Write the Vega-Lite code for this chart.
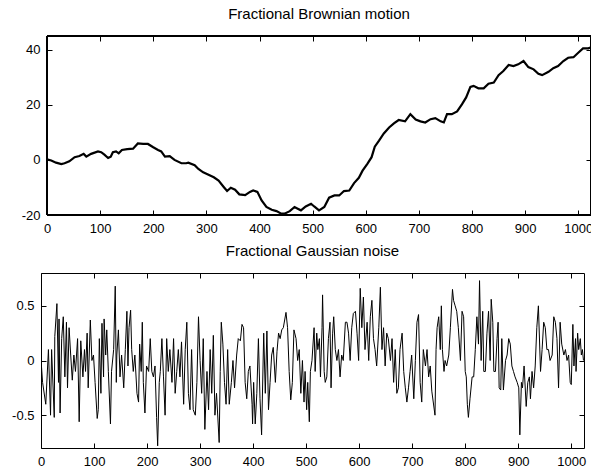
{
  "$schema": "https://vega.github.io/schema/vega-lite/v6.json",
  "padding": {"top": 6, "left": 0, "right": 0, "bottom": 0},
  "background": "white",
  "spacing": 8,
  "datasets": {
    "fbm": [
      {"t":0,"v":0.2},{"t":8,"v":-0.2},{"t":17,"v":-1},{"t":27,"v":-1.5},{"t":33,"v":-1.2},{"t":42,"v":-0.5},{"t":52,"v":1},{"t":61,"v":1.4},{"t":69,"v":2.2},{"t":74,"v":1.2},{"t":83,"v":2.2},{"t":96,"v":3.1},{"t":102,"v":2.8},{"t":108,"v":1.9},{"t":115,"v":0.7},{"t":120,"v":1.2},{"t":124,"v":2.8},{"t":130,"v":3.1},{"t":135,"v":2.4},{"t":141,"v":3.6},{"t":151,"v":3.9},{"t":162,"v":4.1},{"t":171,"v":6},{"t":181,"v":5.8},{"t":190,"v":5.8},{"t":200,"v":4.6},{"t":209,"v":3.6},{"t":215,"v":3.1},{"t":222,"v":1.2},{"t":231,"v":1.4},{"t":240,"v":0},{"t":253,"v":-1.2},{"t":262,"v":-1.2},{"t":266,"v":-1},{"t":278,"v":-1.9},{"t":285,"v":-3.3},{"t":294,"v":-4.5},{"t":301,"v":-5.1},{"t":314,"v":-6.3},{"t":323,"v":-7.5},{"t":333,"v":-9.9},{"t":339,"v":-11.3},{"t":346,"v":-10.1},{"t":354,"v":-10.8},{"t":362,"v":-12.5},{"t":373,"v":-12.8},{"t":382,"v":-11.6},{"t":388,"v":-11.1},{"t":396,"v":-11.6},{"t":404,"v":-14.7},{"t":413,"v":-17.1},{"t":423,"v":-18.1},{"t":432,"v":-18.6},{"t":441,"v":-19.5},{"t":447,"v":-19.5},{"t":457,"v":-18.6},{"t":466,"v":-17.1},{"t":472,"v":-17.7},{"t":478,"v":-18.3},{"t":487,"v":-16.9},{"t":497,"v":-15.9},{"t":503,"v":-16.9},{"t":512,"v":-18.3},{"t":522,"v":-17.1},{"t":531,"v":-13.7},{"t":541,"v":-12.9},{"t":550,"v":-12.9},{"t":559,"v":-11.3},{"t":569,"v":-11.1},{"t":578,"v":-8.4},{"t":587,"v":-6.5},{"t":594,"v":-3.9},{"t":603,"v":-1.4},{"t":611,"v":1},{"t":617,"v":4.8},{"t":625,"v":7},{"t":634,"v":9.6},{"t":644,"v":11.8},{"t":653,"v":13.3},{"t":662,"v":14.5},{"t":674,"v":14},{"t":684,"v":16.6},{"t":694,"v":14.7},{"t":703,"v":14},{"t":712,"v":13.6},{"t":722,"v":14.8},{"t":731,"v":15.2},{"t":741,"v":14},{"t":747,"v":13.6},{"t":753,"v":16.6},{"t":762,"v":16.6},{"t":772,"v":17.6},{"t":781,"v":20.2},{"t":789,"v":22.7},{"t":797,"v":26.5},{"t":803,"v":26.9},{"t":812,"v":26},{"t":822,"v":26},{"t":831,"v":27.7},{"t":841,"v":28.1},{"t":850,"v":30.8},{"t":859,"v":32.3},{"t":869,"v":34.5},{"t":878,"v":34.1},{"t":887,"v":34.7},{"t":897,"v":35.9},{"t":906,"v":33.7},{"t":916,"v":32.9},{"t":925,"v":31.3},{"t":932,"v":30.8},{"t":944,"v":32},{"t":953,"v":33.3},{"t":962,"v":34.1},{"t":972,"v":35.9},{"t":981,"v":37.1},{"t":991,"v":37.3},{"t":1000,"v":38.9},{"t":1009,"v":40.5},{"t":1019,"v":40.5},{"t":1023,"v":40.8}
    ],
    "fgn": [
      {"t":0,"v":0.01},{"t":3,"v":-0.2},{"t":9,"v":-0.4},{"t":14,"v":0.1},{"t":18,"v":-0.5},{"t":20,"v":0.1},{"t":25,"v":-0.52},{"t":26,"v":0.22},{"t":30,"v":0.52},{"t":33,"v":-0.2},{"t":34,"v":0.38},{"t":36,"v":-0.48},{"t":39,"v":0.2},{"t":42,"v":0.4},{"t":45,"v":-0.15},{"t":48,"v":0.35},{"t":50,"v":-0.25},{"t":53,"v":0.3},{"t":56,"v":0.05},{"t":59,"v":-0.18},{"t":62,"v":0.05},{"t":65,"v":-0.1},{"t":69,"v":0.2},{"t":72,"v":-0.56},{"t":75,"v":0.18},{"t":79,"v":-0.15},{"t":82,"v":0.1},{"t":84,"v":-0.1},{"t":87,"v":0.25},{"t":89,"v":-0.25},{"t":93,"v":0.37},{"t":96,"v":0.0},{"t":99,"v":0.05},{"t":102,"v":-0.2},{"t":106,"v":-0.53},{"t":108,"v":-0.45},{"t":110,"v":0.2},{"t":113,"v":-0.3},{"t":115,"v":0.34},{"t":118,"v":-0.15},{"t":119,"v":0.38},{"t":122,"v":0.05},{"t":124,"v":0.28},{"t":127,"v":-0.1},{"t":131,"v":-0.58},{"t":133,"v":-0.1},{"t":137,"v":0.1},{"t":140,"v":0.68},{"t":142,"v":-0.2},{"t":143,"v":0.05},{"t":146,"v":0.28},{"t":149,"v":-0.15},{"t":152,"v":0.05},{"t":156,"v":-0.25},{"t":159,"v":0.1},{"t":162,"v":0.45},{"t":164,"v":-0.05},{"t":166,"v":0.3},{"t":169,"v":0.46},{"t":171,"v":0.1},{"t":174,"v":-0.1},{"t":177,"v":0.05},{"t":181,"v":-0.3},{"t":184,"v":-0.38},{"t":186,"v":0.15},{"t":189,"v":-0.1},{"t":191,"v":0.35},{"t":193,"v":-0.2},{"t":196,"v":-0.48},{"t":199,"v":-0.05},{"t":203,"v":-0.1},{"t":206,"v":0.2},{"t":209,"v":-0.1},{"t":212,"v":-0.15},{"t":215,"v":-0.05},{"t":218,"v":-0.52},{"t":220,"v":-0.78},{"t":223,"v":-0.2},{"t":225,"v":-0.1},{"t":228,"v":0.2},{"t":231,"v":-0.15},{"t":234,"v":-0.5},{"t":237,"v":0.2},{"t":240,"v":-0.1},{"t":243,"v":0.1},{"t":247,"v":-0.2},{"t":250,"v":0.2},{"t":253,"v":-0.3},{"t":256,"v":-0.1},{"t":259,"v":0.1},{"t":262,"v":-0.15},{"t":265,"v":0.17},{"t":269,"v":-0.4},{"t":272,"v":0.1},{"t":275,"v":0.35},{"t":278,"v":-0.3},{"t":281,"v":-0.45},{"t":284,"v":0.1},{"t":287,"v":-0.45},{"t":291,"v":-0.5},{"t":294,"v":-0.2},{"t":297,"v":0.4},{"t":300,"v":0.0},{"t":303,"v":-0.3},{"t":306,"v":0.2},{"t":309,"v":-0.63},{"t":313,"v":-0.1},{"t":316,"v":-0.45},{"t":319,"v":0.1},{"t":322,"v":-0.3},{"t":325,"v":0.23},{"t":328,"v":-0.5},{"t":331,"v":-0.3},{"t":336,"v":-0.75},{"t":338,"v":-0.1},{"t":340,"v":0.35},{"t":343,"v":0.15},{"t":346,"v":-0.2},{"t":349,"v":-0.4},{"t":352,"v":0.1},{"t":355,"v":-0.4},{"t":359,"v":-0.2},{"t":362,"v":0.0},{"t":365,"v":-0.25},{"t":369,"v":0.05},{"t":372,"v":0.2},{"t":376,"v":0.18},{"t":379,"v":0.33},{"t":382,"v":0.3},{"t":385,"v":-0.2},{"t":388,"v":-0.35},{"t":391,"v":-0.1},{"t":394,"v":-0.05},{"t":398,"v":-0.4},{"t":399,"v":-0.58},{"t":401,"v":-0.2},{"t":404,"v":-0.58},{"t":407,"v":-0.3},{"t":410,"v":0.2},{"t":413,"v":-0.35},{"t":416,"v":-0.68},{"t":420,"v":0.25},{"t":423,"v":-0.3},{"t":426,"v":0.27},{"t":429,"v":-0.45},{"t":432,"v":-0.2},{"t":435,"v":0.05},{"t":438,"v":0.12},{"t":442,"v":-0.2},{"t":445,"v":0.08},{"t":448,"v":0.25},{"t":451,"v":0.2},{"t":454,"v":0.28},{"t":457,"v":0.3},{"t":462,"v":0.44},{"t":465,"v":0.3},{"t":468,"v":-0.1},{"t":471,"v":-0.36},{"t":474,"v":-0.2},{"t":477,"v":0.28},{"t":481,"v":0.2},{"t":484,"v":0.0},{"t":487,"v":0.1},{"t":490,"v":-0.3},
      {"t":493,"v":0.0},{"t":496,"v":-0.38},{"t":498,"v":-0.1},{"t":501,"v":-0.45},{"t":503,"v":-0.2},{"t":506,"v":-0.56},{"t":508,"v":-0.1},{"t":511,"v":0.0},{"t":515,"v":0.3},{"t":517,"v":-0.1},{"t":520,"v":0.25},{"t":522,"v":0.1},{"t":525,"v":0.2},{"t":527,"v":-0.15},{"t":530,"v":0.3},{"t":531,"v":0.6},{"t":534,"v":-0.1},{"t":536,"v":-0.2},{"t":539,"v":-0.15},{"t":542,"v":0.2},{"t":545,"v":0.35},{"t":547,"v":-0.25},{"t":550,"v":0.25},{"t":552,"v":0.4},{"t":555,"v":0.1},{"t":558,"v":0.0},{"t":561,"v":0.1},{"t":564,"v":-0.15},{"t":567,"v":0.05},{"t":570,"v":0.0},{"t":574,"v":0.35},{"t":577,"v":0.35},{"t":580,"v":0.25},{"t":583,"v":0.0},{"t":586,"v":0.3},{"t":589,"v":0.43},{"t":593,"v":0.45},{"t":596,"v":0.25},{"t":599,"v":0.0},{"t":602,"v":0.66},{"t":605,"v":0.3},{"t":608,"v":0.58},{"t":611,"v":0.1},{"t":615,"v":0.35},{"t":618,"v":0.0},{"t":621,"v":0.4},{"t":624,"v":0.55},{"t":627,"v":0.2},{"t":630,"v":0.1},{"t":633,"v":-0.05},{"t":637,"v":0.3},{"t":640,"v":0.67},{"t":643,"v":0.1},{"t":646,"v":0.3},{"t":649,"v":-0.05},{"t":652,"v":0.25},{"t":655,"v":0.2},{"t":659,"v":0.0},{"t":662,"v":0.2},{"t":665,"v":-0.2},{"t":668,"v":0.1},{"t":671,"v":-0.3},{"t":674,"v":-0.25},{"t":677,"v":0.1},{"t":681,"v":0.25},{"t":684,"v":-0.1},{"t":687,"v":-0.25},{"t":690,"v":-0.38},{"t":693,"v":-0.25},{"t":696,"v":-0.1},{"t":699,"v":0.05},{"t":703,"v":-0.35},{"t":706,"v":0.0},{"t":709,"v":0.35},{"t":712,"v":0.42},{"t":715,"v":-0.2},{"t":718,"v":-0.38},{"t":721,"v":0.1},{"t":725,"v":-0.05},{"t":728,"v":0.1},{"t":731,"v":-0.15},{"t":734,"v":-0.05},{"t":737,"v":-0.28},{"t":743,"v":-0.5},{"t":745,"v":0.1},{"t":747,"v":0.3},{"t":750,"v":0.4},{"t":753,"v":0.1},{"t":755,"v":0.5},{"t":757,"v":0.1},{"t":760,"v":-0.1},{"t":762,"v":0.0},{"t":765,"v":-0.05},{"t":769,"v":0.05},{"t":772,"v":0.3},{"t":776,"v":0.65},{"t":778,"v":0.55},{"t":781,"v":0.5},{"t":784,"v":0.45},{"t":787,"v":0.3},{"t":791,"v":0.0},{"t":794,"v":0.45},{"t":797,"v":0.4},{"t":800,"v":-0.1},{"t":802,"v":-0.15},{"t":804,"v":-0.4},{"t":806,"v":-0.52},{"t":809,"v":-0.35},{"t":813,"v":-0.15},{"t":816,"v":-0.15},{"t":819,"v":0.1},{"t":822,"v":0.4},{"t":825,"v":0.15},{"t":827,"v":0.73},{"t":830,"v":0.0},{"t":833,"v":0.45},{"t":835,"v":-0.1},{"t":838,"v":-0.1},{"t":841,"v":0.25},{"t":844,"v":0.45},{"t":847,"v":0.0},{"t":849,"v":0.56},{"t":852,"v":0.35},{"t":854,"v":-0.1},{"t":857,"v":-0.1},{"t":860,"v":0.2},{"t":862,"v":0.35},{"t":864,"v":-0.25},{"t":867,"v":-0.27},{"t":869,"v":0.2},{"t":872,"v":-0.27},{"t":876,"v":0.0},{"t":879,"v":0.05},{"t":882,"v":0.2},{"t":885,"v":0.15},{"t":888,"v":-0.05},{"t":891,"v":-0.1},{"t":894,"v":-0.15},{"t":898,"v":-0.2},{"t":901,"v":-0.25},{"t":903,"v":-0.68},{"t":906,"v":-0.2},{"t":908,"v":-0.25},{"t":911,"v":-0.05},{"t":915,"v":-0.42},{"t":918,"v":-0.2},{"t":921,"v":-0.15},{"t":923,"v":-0.35},{"t":926,"v":-0.1},{"t":929,"v":-0.25},{"t":932,"v":-0.05},{"t":935,"v":0.3},{"t":938,"v":0.5},{"t":942,"v":-0.1},{"t":945,"v":0.1},{"t":948,"v":0.35},{"t":951,"v":0.3},{"t":954,"v":0.1},{"t":957,"v":0.1},{"t":960,"v":0.0},{"t":964,"v":0.05},{"t":967,"v":0.4},{"t":970,"v":0.35},{"t":973,"v":0.2},{"t":976,"v":-0.25},{"t":979,"v":0.35},{"t":982,"v":0.15},{"t":986,"v":0.05},{"t":989,"v":0.1},{"t":992,"v":0.0},{"t":995,"v":0.05},{"t":998,"v":-0.2},{"t":1000,"v":-0.22},{"t":1003,"v":0.33},{"t":1005,"v":-0.05},{"t":1008,"v":0.2},{"t":1009,"v":-0.1},{"t":1012,"v":0.25},{"t":1014,"v":0.1},{"t":1017,"v":0.2},{"t":1019,"v":0.05},{"t":1021,"v":0.1},{"t":1023,"v":0.0}
    ]
  },
  "vconcat": [
    {
      "title": {"text": "Fractional Brownian motion", "dx": 3},
      "width": 550,
      "height": 179,
      "view": {"stroke": null},
      "data": {"name": "fbm"},
      "layer": [
        {
          "mark": {"type": "rect", "fill": null, "stroke": "black", "strokeWidth": 1},
          "encoding": {
            "x": {"datum": 0, "type": "quantitative", "axis": null},
            "x2": {"datum": 1024},
            "y": {"datum": -20, "type": "quantitative", "axis": null},
            "y2": {"datum": 45}
          }
        },
        {
          "mark": {"type": "line", "color": "black", "strokeWidth": 2.2, "clip": true},
          "encoding": {
            "x": {"field": "t", "type": "quantitative", "scale": {"domain": [0, 1024], "range": [6, 550], "nice": false, "zero": false},
                  "axis": {"orient": "bottom", "values": [0,100,200,300,400,500,600,700,800,900,1000], "format": "d", "title": null}},
            "y": {"field": "v", "type": "quantitative", "scale": {"domain": [-20, 45], "nice": false, "zero": false},
                  "axis": {"orient": "left", "offset": -6, "values": [-20,0,20,40], "format": "d", "title": null, "minExtent": 40, "maxExtent": 40}}
          }
        },
        {
          "mark": {"type": "line", "opacity": 0},
          "encoding": {
            "x": {"field": "t", "type": "quantitative",
                  "axis": {"orient": "top", "values": [0,100,200,300,400,500,600,700,800,900,1000], "labels": false, "title": null, "minExtent": 0, "maxExtent": 0}},
            "y": {"field": "v", "type": "quantitative",
                  "axis": {"orient": "right", "values": [-20,0,20,40], "labels": false, "title": null, "minExtent": 0, "maxExtent": 0}}
          }
        }
      ],
      "resolve": {"axis": {"x": "independent", "y": "independent"}}
    },
    {
      "title": {"text": "Fractional Gaussian noise"},
      "width": 543,
      "height": 175,
      "data": {"name": "fgn"},
      "layer": [
        {
          "mark": {"type": "line", "color": "black", "strokeWidth": 1, "clip": true},
          "encoding": {
            "x": {"field": "t", "type": "quantitative", "scale": {"domain": [0, 1024], "nice": false, "zero": false},
                  "axis": {"orient": "bottom", "values": [0,100,200,300,400,500,600,700,800,900,1000], "format": "d", "title": null}},
            "y": {"field": "v", "type": "quantitative", "scale": {"domain": [-0.8, 0.8], "nice": false, "zero": false},
                  "axis": {"orient": "left", "values": [-0.5,0,0.5], "format": "~g", "title": null, "minExtent": 40, "maxExtent": 40}}
          }
        },
        {
          "mark": {"type": "line", "opacity": 0},
          "encoding": {
            "x": {"field": "t", "type": "quantitative",
                  "axis": {"orient": "top", "values": [0,100,200,300,400,500,600,700,800,900,1000], "labels": false, "title": null, "minExtent": 0, "maxExtent": 0}},
            "y": {"field": "v", "type": "quantitative",
                  "axis": {"orient": "right", "values": [-0.5,0,0.5], "labels": false, "title": null, "minExtent": 0, "maxExtent": 0}}
          }
        }
      ],
      "resolve": {"axis": {"x": "independent", "y": "independent"}}
    }
  ],
  "config": {
    "view": {"stroke": "black", "strokeWidth": 1},
    "axis": {
      "domain": false, "grid": false,
      "ticks": true, "tickColor": "black", "tickSize": -5, "tickWidth": 1,
      "labelFont": "Liberation Sans", "labelFontSize": 13, "labelColor": "black",
      "labelPadding": 12, "labelFlush": false, "labelOverlap": false, "labelBound": false,
      "labelExpr": "replace(datum.label, '\u2212', '-')"
    },
    "title": {"font": "Liberation Sans", "fontSize": 15, "fontWeight": "normal", "color": "black", "anchor": "middle", "baseline": "alphabetic", "offset": 14}
  }
}
